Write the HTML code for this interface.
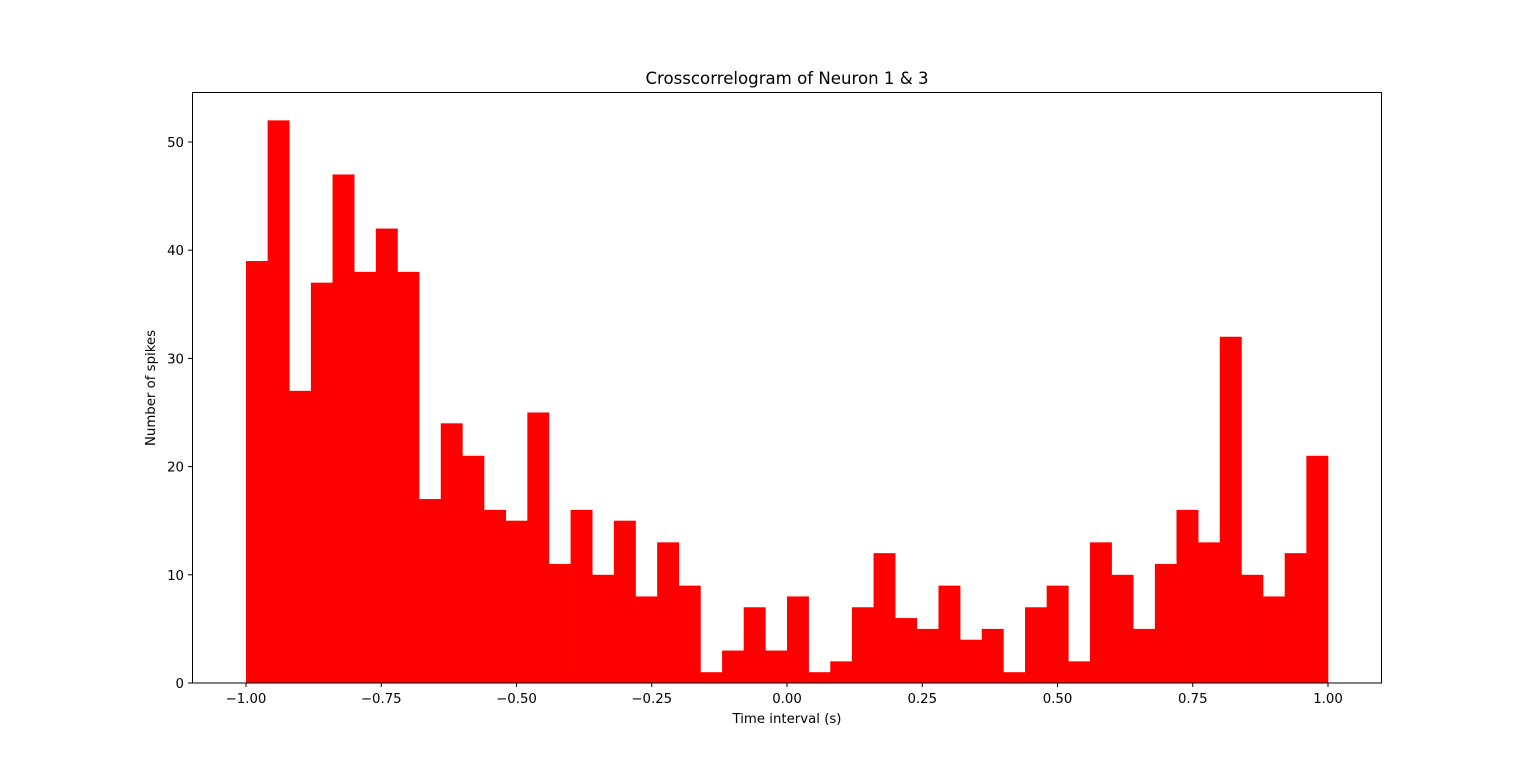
<!DOCTYPE html>
<html><head><meta charset="utf-8"><style>
body{margin:0;background:#fff}
svg text{font-family:"DejaVu Sans","Liberation Sans",sans-serif;font-size:13.3px;fill:#000}
</style></head><body>
<svg id="chart" width="1536" height="767" xmlns="http://www.w3.org/2000/svg">
<rect width="1536" height="767" fill="#fff"/>
<g id="bars"></g>
<rect x="192.5" y="92.5" width="1189" height="590.5" fill="none" stroke="#000" stroke-width="1"/>
<g id="xt"></g>
<g id="yt"></g>
<text x="787" y="84" text-anchor="middle" style="font-size:16.6px">Crosscorrelogram of Neuron 1 &amp; 3</text>
<text x="787" y="723" text-anchor="middle">Time interval (s)</text>
<text transform="translate(155,388) rotate(-90)" text-anchor="middle">Number of spikes</text>
</svg>
<script>
const counts=[39,52,27,37,47,38,42,38,17,24,21,16,15,25,11,16,10,15,8,13,9,1,3,7,3,8,1,2,7,12,6,5,9,4,5,1,7,9,2,13,10,5,11,16,13,32,10,8,12,21];
const xTicks=[-1,-0.75,-0.5,-0.25,0,0.25,0.5,0.75,1];
const xTickLabels=["\u22121.00","\u22120.75","\u22120.50","\u22120.25","0.00","0.25","0.50","0.75","1.00"];
const yTicks=[0,10,20,30,40,50];
const binStart=-1, binEnd=1;
const NS="http://www.w3.org/2000/svg";
function xs(v){return 246+(v+1)*541;}
function ys(v){return 683-v*10.82;}
const bw=(binEnd-binStart)/counts.length;
const bars=document.getElementById('bars');
counts.forEach((c,i)=>{
  const x0=xs(binStart+i*bw), x1=xs(binStart+(i+1)*bw);
  const r=document.createElementNS(NS,'rect');
  r.setAttribute('x',x0);r.setAttribute('width',x1-x0+0.3);
  r.setAttribute('y',ys(c));r.setAttribute('height',ys(0)-ys(c));
  r.setAttribute('fill','#ff0000');
  
  
  bars.appendChild(r);
});
const xt=document.getElementById('xt');
xTicks.forEach((t,i)=>{
  const x=xs(t);
  const l=document.createElementNS(NS,'line');
  l.setAttribute('x1',x);l.setAttribute('x2',x);l.setAttribute('y1',683);l.setAttribute('y2',687);l.setAttribute('stroke','#000');
  
  
  xt.appendChild(l);
  const tx=document.createElementNS(NS,'text');
  tx.setAttribute('x',x);tx.setAttribute('y',703);tx.setAttribute('text-anchor','middle');
  tx.textContent=xTickLabels[i];
  
  
  xt.appendChild(tx);
});
const yt=document.getElementById('yt');
yTicks.forEach(t=>{
  const y=ys(t);
  const l=document.createElementNS(NS,'line');
  l.setAttribute('x1',188);l.setAttribute('x2',192);l.setAttribute('y1',y);l.setAttribute('y2',y);l.setAttribute('stroke','#000');
  
  
  yt.appendChild(l);
  const tx=document.createElementNS(NS,'text');
  tx.setAttribute('x',184);tx.setAttribute('y',y+5);tx.setAttribute('text-anchor','end');
  tx.textContent=String(t);
  
  
  yt.appendChild(tx);
});
</script>
</body></html>
